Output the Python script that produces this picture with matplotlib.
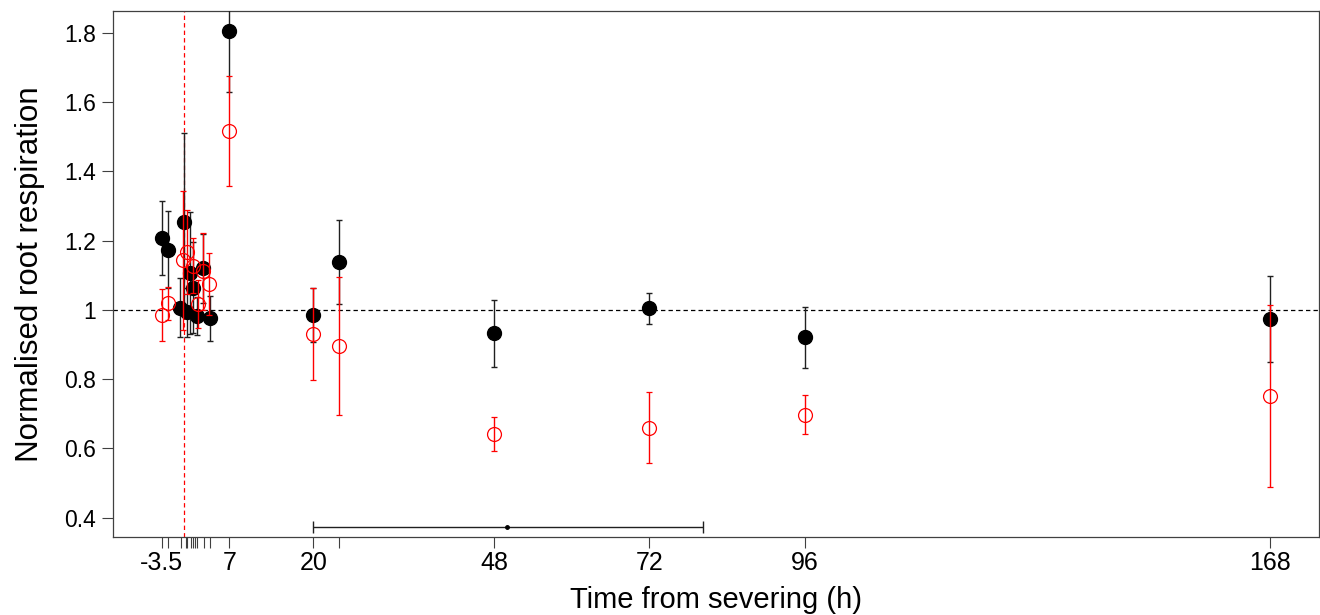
import matplotlib
matplotlib.use("Agg")
import matplotlib.pyplot as plt

plt.rcParams['font.family'] = ['Liberation Sans', 'DejaVu Sans']

# sampling times (h) relative to severing
t_black = [-3.5, -2.5, -0.6, -0.08, 0.5, 0.95, 1.31, 1.93, 2.95, 3.94, 7, 20, 24, 48, 72, 96, 168]
resp_black = [1.207, 1.174, 1.006, 1.255, 0.993, 1.106, 1.064, 0.981, 1.120, 0.976,
              1.805, 0.986, 1.138, 0.932, 1.004, 0.921, 0.973]
err_black = [0.106, 0.112, 0.085, 0.257, 0.07, 0.176, 0.132, 0.055, 0.10, 0.065,
             0.176, 0.078, 0.122, 0.096, 0.046, 0.088, 0.124]

t_red = [-3.5, -2.5, -0.14, 0.39, 1.41, 2.08, 2.95, 3.85, 7, 20, 24, 48, 72, 96, 168]
resp_red = [0.984, 1.019, 1.143, 1.167, 1.128, 1.017, 1.111, 1.075,
            1.516, 0.929, 0.896, 0.642, 0.660, 0.697, 0.751]
err_red = [0.075, 0.047, 0.20, 0.12, 0.08, 0.07, 0.11, 0.09,
           0.158, 0.133, 0.199, 0.05, 0.103, 0.056, 0.262]

# mean severing-to-sampling interval with its range
span_mean = 50
span_lo = 20
span_hi = 80.3
span_y = 0.372

minor_ticks = [-3.5, -2.5, -0.5, 0.25, 0.5, 1, 1.33, 1.67, 2, 3, 4, 7, 20, 24, 48, 72, 96, 168]
major_ticks = [-3.5, 7, 20, 48, 72, 96, 168]
y_ticks = [0.4, 0.6, 0.8, 1.0, 1.2, 1.4, 1.6, 1.8]
y_labels = ["0.4", "0.6", "0.8", "1", "1.2", "1.4", "1.6", "1.8"]

fig = plt.figure(figsize=(13.2, 6.15), dpi=100)
ax = fig.add_axes([0.0854, 0.1268, 0.9138, 0.8553])

ax.axhline(1.0, color='black', ls=(0, (3.5, 2.5)), lw=0.9, zorder=1)
ax.axvline(0, color='red', ls=(0, (3.5, 2.5)), lw=0.9, zorder=1)

ax.errorbar(t_black, resp_black, yerr=err_black, fmt='o', color='black', ecolor='#202020',
            ms=10, elinewidth=1.0, capsize=2.2, capthick=1.0, zorder=3)
ax.errorbar(t_red, resp_red, yerr=err_red, fmt='o', color='red', mfc='none', mec='red',
            ms=10, mew=0.9, elinewidth=1.0, capsize=2.2, capthick=1.0, zorder=4)

ax.errorbar([span_mean], [span_y], xerr=[[span_mean - span_lo], [span_hi - span_mean]],
            fmt='o', color='black', ecolor='#202020', ms=2.5, elinewidth=1.0,
            capsize=4, capthick=1.0, zorder=3)

ax.set_xlim(-11.05, 175.6)
ax.set_ylim(0.344, 1.863)

ax.set_xticks(minor_ticks, minor=True)
ax.set_xticks(major_ticks)
ax.set_xticklabels(["-3.5", "7", "20", "48", "72", "96", "168"])
ax.tick_params(axis='x', which='both', length=8, width=0.8, color='#404040',
               labelsize=18, pad=2)
ax.set_yticks(y_ticks)
ax.set_yticklabels(y_labels)
ax.tick_params(axis='y', length=8, width=0.8, color='#404040', labelsize=16.5, pad=4)

for s in ax.spines.values():
    s.set_color('#404040')
    s.set_linewidth(0.9)

ax.set_xlabel("Time from severing (h)", fontsize=21, labelpad=8)
ax.set_ylabel("Normalised root respiration", fontsize=22.5, labelpad=14)

fig.savefig("out.png", dpi=100)
